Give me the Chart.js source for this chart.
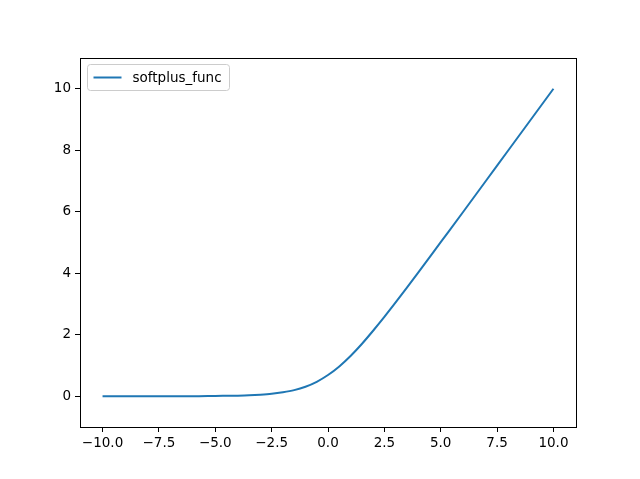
<!DOCTYPE html>
<html>
<head>
<meta charset="utf-8">
<script src="https://cdn.jsdelivr.net/npm/chart.js@4/dist/chart.umd.min.js"></script>
<style>
  html, body { margin: 0; padding: 0; background: #fff; }
  #wrap { width: 640px; height: 479px; }
</style>
</head>
<body>
<div id="wrap"><canvas id="chart"></canvas></div>
<script>
// values
const xValues = [-10, -9, -8, -7, -6, -5, -4, -3.5, -3, -2.5, -2, -1.5, -1, -0.5, 0,
                 0.5, 1, 1.5, 2, 2.5, 3, 3.5, 4, 5, 6, 7, 8, 9, 10];
const yValues = [0.00, 0.00, 0.00, 0.00, 0.00, 0.01, 0.02, 0.03, 0.05, 0.08, 0.13, 0.20, 0.31, 0.47, 0.69,
                 0.97, 1.31, 1.70, 2.13, 2.58, 3.05, 3.53, 4.02, 5.01, 6.00, 7.00, 8.00, 9.00, 10.00];
const xTicks = [-10, -7.5, -5, -2.5, 0, 2.5, 5, 7.5, 10];
const yTicks = [0, 2, 4, 6, 8, 10];
const seriesName = 'softplus_func';

// matplotlib style minus sign
const fmt = (v, digits) => (v < 0 ? '\u2212' : '') + Math.abs(v).toFixed(digits);

const frame = {
    id: 'frame',
    afterDraw(chart) {
        const ctx = chart.ctx, a = chart.chartArea;
        ctx.save();
        ctx.strokeStyle = '#000';
        ctx.lineWidth = 1;
        ctx.strokeRect(Math.round(a.left) + 0.5, Math.round(a.top) + 0.5,
                       Math.round(a.right - a.left), Math.round(a.bottom - a.top));

        // legend box, top left inside the axes
        const bx = a.left + 7.5, by = a.top + 6.5, bw = 142, bh = 26;
        ctx.beginPath();
        ctx.roundRect(bx, by, bw, bh, 3);
        ctx.fillStyle = 'rgba(255,255,255,0.8)';
        ctx.fill();
        ctx.strokeStyle = '#cccccc';
        ctx.stroke();
        ctx.beginPath();
        ctx.moveTo(bx + 6, by + 13);
        ctx.lineTo(bx + 34, by + 13);
        ctx.strokeStyle = '#1f77b4';
        ctx.lineWidth = 2;
        ctx.stroke();
        ctx.fillStyle = '#000';
        ctx.font = '13.5px "DejaVu Sans"';
        ctx.textBaseline = 'middle';
        ctx.fillText(seriesName, bx + 45, by + 13.5);
        ctx.restore();
    }
};

const tickFont = { family: 'DejaVu Sans', size: 13.5 };

new Chart(document.getElementById('chart'), {
    type: 'line',
    data: {
        datasets: [{
            label: seriesName,
            data: xValues.map((x, i) => ({ x: x, y: yValues[i] })),
            borderColor: '#1f77b4',
            borderWidth: 2,
            pointRadius: 0,
            cubicInterpolationMode: 'monotone',
            fill: false
        }]
    },
    options: {
        responsive: true,
        maintainAspectRatio: false,
        animation: false,
        layout: { padding: { top: 58, right: 64, left: 0, bottom: 0 } },
        plugins: { legend: { display: false }, tooltip: { enabled: false } },
        scales: {
            x: {
                type: 'linear',
                min: -11, max: 11,
                afterBuildTicks: s => { s.ticks = xTicks.map(v => ({ value: v })); },
                afterFit: s => { s.height = 52; },
                grid: { drawOnChartArea: false, tickLength: 5, color: '#000' },
                border: { color: '#000' },
                ticks: { color: '#000', font: tickFont, padding: 3, maxRotation: 0,
                         callback: v => fmt(Number(v), 1) }
            },
            y: {
                min: -1, max: 11,
                afterBuildTicks: s => { s.ticks = yTicks.map(v => ({ value: v })); },
                afterFit: s => { s.width = 80; },
                grid: { drawOnChartArea: false, tickLength: 5, color: '#000' },
                border: { color: '#000' },
                ticks: { color: '#000', font: tickFont, padding: 4, callback: v => fmt(Number(v), 0) }
            }
        }
    },
    plugins: [frame]
});
</script>
</body>
</html>
